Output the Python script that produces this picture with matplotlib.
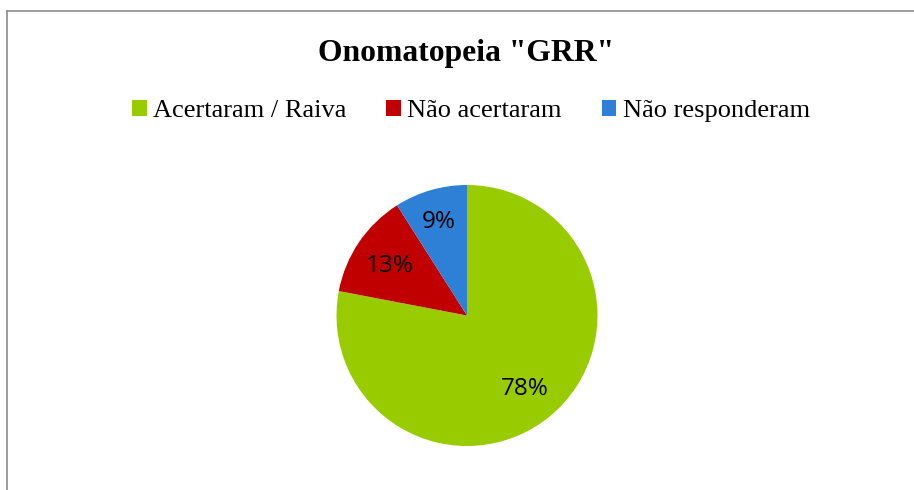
import matplotlib.pyplot as plt
from matplotlib.patches import Patch
from matplotlib.lines import Line2D
import numpy as np

labels = ["Acertaram / Raiva", "Não acertaram", "Não responderam"]
values = [78, 13, 9]
colors = ["#99CC00", "#C00000", "#2E7FD6"]
label_dist = [0.70, 0.713, 0.773]

W, H = 914, 490
fig = plt.figure(figsize=(W / 100, H / 100), dpi=100)

# gray frame (top and left edges visible)
fx, fy = 7 / W, 1 - 11 / H
fig.add_artist(Line2D([fx, 1], [fy, fy], color="#8c8c8c", lw=1.2))
fig.add_artist(Line2D([fx, fx], [0, fy], color="#8c8c8c", lw=1.2))

cx, cy, r = 467, 315.5, 130.5
ax = fig.add_axes([(cx - r) / W, (H - cy - r) / H, 2 * r / W, 2 * r / H])
wedges, texts, autotexts = ax.pie(values, colors=colors, startangle=90, counterclock=False,
                                  autopct="%1.0f%%", radius=1,
                                  textprops=dict(fontsize=17.5, family="Open Sans", color="black"))
ax.set_xlim(-1, 1)
ax.set_ylim(-1, 1)
ax.set_aspect("equal")
ax.axis("off")

for w, t, d in zip(wedges, autotexts, label_dist):
    ang = np.deg2rad((w.theta1 + w.theta2) / 2)
    t.set_position((d * np.cos(ang), d * np.sin(ang)))
    t.set_va("center_baseline")

fig.text(466 / W, 1 - 54 / H, 'Onomatopeia "GRR"', ha="center", va="center",
         fontsize=22.8, fontweight="bold", family="Liberation Serif")

handles = [Patch(facecolor=c, edgecolor="none") for c in colors]
fig.legend(handles, labels, loc="center", bbox_to_anchor=(471 / W, 1 - 111 / H), ncol=3,
           frameon=False, prop=dict(family="Liberation Serif", size=19),
           handlelength=0.55, handleheight=0.55, handletextpad=0.25, columnspacing=1.5)

fig.savefig("out.png", dpi=100)
